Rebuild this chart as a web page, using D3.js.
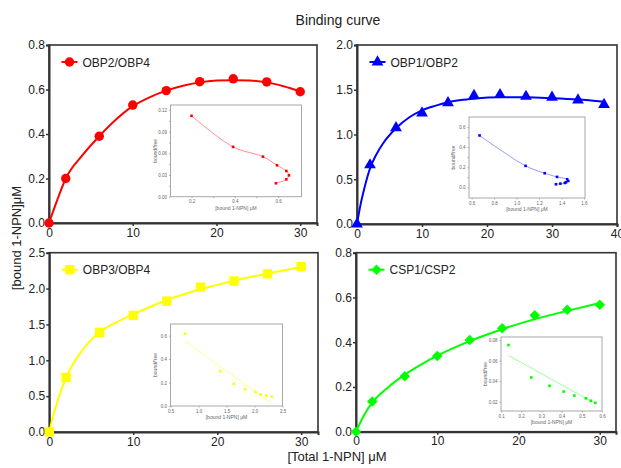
<!DOCTYPE html>
<html>
<head>
<meta charset="utf-8">
<script src="https://cdn.jsdelivr.net/npm/d3@7"></script>
<style>
body { margin: 0; background: #fff; }
svg { font-family: Arial, "Liberation Sans", sans-serif; }
</style>
</head>
<body>
<svg id="chart" width="621" height="468"></svg>
<script>
// total 1-NPN (uM) used in the titrations
var total30 = [0, 2, 6, 10, 14, 18, 22, 26, 30];
var total38 = [0, 2, 6, 10, 14, 18, 22, 26, 30, 34, 38];

// bound 1-NPN (uM)
var boundOBP24 = [0, 0.20, 0.39, 0.53, 0.595, 0.635, 0.648, 0.634, 0.59];
var boundOBP12 = [0, 0.66, 1.075, 1.24, 1.355, 1.435, 1.445, 1.425, 1.415, 1.385, 1.335];
var boundOBP34 = [0, 0.76, 1.39, 1.625, 1.825, 2.02, 2.105, 2.205, 2.305];
var boundCSP12 = [0, 0.135, 0.248, 0.338, 0.41, 0.462, 0.52, 0.545, 0.567];

// fitted curves
var fitX24 = [0, 1, 2, 4, 6, 8, 10, 12, 14, 16, 18, 20, 22, 24, 26, 28, 30];
var fitY24 = [0, 0.105, 0.2, 0.305, 0.39, 0.465, 0.525, 0.565, 0.595, 0.617, 0.632, 0.64, 0.642, 0.64, 0.632, 0.615, 0.592];
var fitX12 = [0, 0.5, 1, 2, 3, 4, 6, 8, 10, 12, 14, 16, 18, 22, 26, 30, 34, 38];
var fitY12 = [0, 0.2, 0.36, 0.62, 0.78, 0.9, 1.07, 1.19, 1.27, 1.32, 1.36, 1.385, 1.4, 1.415, 1.415, 1.405, 1.39, 1.365];
var fitX34 = [0, 0.5, 1, 2, 4, 6, 8, 10, 14, 18, 22, 26, 30];
var fitY34 = [0, 0.24, 0.44, 0.76, 1.15, 1.39, 1.53, 1.64, 1.84, 1.99, 2.11, 2.21, 2.3];
var fitXC = [0, 1, 2, 4, 6, 8, 10, 14, 18, 22, 26, 30];
var fitYC = [0, 0.075, 0.13, 0.2, 0.255, 0.3, 0.34, 0.405, 0.458, 0.503, 0.54, 0.575];

// scatchard insets: bound vs bound/free
var scatB24 = [0.2, 0.392, 0.53, 0.595, 0.638, 0.65, 0.638, 0.59];
var scatR24 = [0.112, 0.069, 0.0555, 0.0435, 0.0356, 0.0296, 0.024, 0.0186];
var scatB12 = [0.67, 1.08, 1.25, 1.36, 1.45, 1.46, 1.44, 1.43, 1.39, 1.35];
var scatR12 = [0.516, 0.213, 0.14, 0.103, 0.08, 0.063, 0.05, 0.043, 0.036, 0.03];
var scatB34 = [0.76, 1.39, 1.63, 1.83, 2.02, 2.11, 2.21, 2.31];
var scatR34 = [0.617, 0.297, 0.189, 0.143, 0.12, 0.098, 0.089, 0.08];
var scatBC = [0.137, 0.25, 0.34, 0.41, 0.463, 0.52, 0.545, 0.567];
var scatRC = [0.0752, 0.0436, 0.0355, 0.0299, 0.026, 0.0233, 0.021, 0.019];
// straight fits in insets 3 and 4
var lineX34 = [0.76, 2.31], lineY34 = [0.555, 0.02];
var lineXC = [0.137, 0.567], lineYC = [0.065, 0.0184];

// tick values
var xTicks30 = [0, 10, 20, 30];
var xTicks40 = [0, 10, 20, 30, 40];
var yTicks08 = [0, 0.2, 0.4, 0.6, 0.8];
var yTicks20 = [0, 0.5, 1.0, 1.5, 2.0];
var yTicks25 = [0, 0.5, 1.0, 1.5, 2.0, 2.5];

var svg = d3.select('#chart');

function zip(a, b) { return a.map(function (v, i) { return [v, b[i]]; }); }

function drawPanel(p) {
    var x = d3.scaleLinear().domain([0, p.xMax]).range([p.left, p.right]);
    var y = d3.scaleLinear().domain([0, p.yMax]).range([p.bottom, p.top]);

    // frame
    svg.append("rect")
        .attr("x", p.left).attr("y", p.top)
        .attr("width", p.right - p.left).attr("height", p.bottom - p.top)
        .attr("fill", "none").attr("stroke", "#333").attr("stroke-width", 1.6);

    var gx = svg.append("g")
        .attr("transform", "translate(0," + p.bottom + ")")
        .call(d3.axisBottom(x).tickValues(p.xTicks).tickSize(3).tickPadding(2).tickFormat(d3.format("d")));
    var gy = svg.append("g")
        .attr("transform", "translate(" + p.left + ",0)")
        .call(d3.axisLeft(y).tickValues(p.yTicks).tickSize(3).tickPadding(1).tickFormat(d3.format(".1f")));
    [gx, gy].forEach(function (g) {
        g.select(".domain").attr("stroke", "#333").attr("stroke-width", 2);
        g.selectAll(".tick line").attr("stroke", "#333").attr("stroke-width", 1.5);
        g.selectAll("text").attr("font-size", 12).attr("fill", "#222")
            .attr("font-family", "Arial, 'Liberation Sans', sans-serif");
    });

    // fitted curve
    var line = d3.line().x(function (d) { return x(d[0]); }).y(function (d) { return y(d[1]); })
        .curve(d3.curveMonotoneX);
    svg.append("path").datum(zip(p.fx, p.fy))
        .attr("d", line).attr("fill", "none").attr("stroke", p.color).attr("stroke-width", 2);

    var sym = d3.symbol().type(p.sym).size(p.size);
    svg.selectAll(null).data(zip(p.xs, p.ys)).enter().append("path")
        .attr("d", sym)
        .attr("transform", function (d) { return "translate(" + x(d[0]) + "," + y(d[1]) + ")" + (p.rot ? " rotate(45)" : ""); })
        .attr("fill", p.color);

    // legend
    var lx = p.left + 12.5, ly = p.top + 17;
    svg.append("line").attr("x1", lx).attr("x2", lx + 16).attr("y1", ly).attr("y2", ly)
        .attr("stroke", p.color).attr("stroke-width", 2);
    svg.append("path").attr("d", sym)
        .attr("transform", "translate(" + (lx + 8) + "," + ly + ")" + (p.rot ? " rotate(45)" : ""))
        .attr("fill", p.color);
    svg.append("text").attr("x", lx + 21).attr("y", ly + 4.5)
        .attr("font-size", 12).attr("fill", "#222").text(p.name);

    drawInset(p.inset, p.color, p.light);
}

function drawInset(s, color, light) {
    var x = d3.scaleLinear().domain(s.xd).range([s.l, s.r]);
    var y = d3.scaleLinear().domain(s.yd).range([s.b, s.t]);
    var g = svg.append("g");
    g.append("rect").attr("x", s.l).attr("y", s.t).attr("width", s.r - s.l).attr("height", s.b - s.t)
        .attr("fill", "#fff").attr("stroke", "#a8a8a8").attr("stroke-width", 1);

    var ax = g.append("g").attr("transform", "translate(0," + s.b + ")")
        .call(d3.axisBottom(x).tickValues(s.xt).tickSize(1.5).tickPadding(2).tickFormat(function (d) {
            return s.xl.indexOf(d) >= 0 ? d3.format(s.xf)(d) : "";
        }));
    var ay = g.append("g").attr("transform", "translate(" + s.l + ",0)")
        .call(d3.axisLeft(y).tickValues(s.yt).tickSize(1.5).tickPadding(2).tickFormat(function (d) {
            return s.yl.indexOf(d) >= 0 ? d3.format(s.yf)(d) : "";
        }));
    [ax, ay].forEach(function (a) {
        a.select(".domain").remove();
        a.selectAll(".tick line").attr("stroke", "#888").attr("stroke-width", 0.6);
        a.selectAll("text").attr("font-size", 4.5).attr("fill", "#666")
            .attr("font-family", "Arial, 'Liberation Sans', sans-serif");
    });

    g.append("text").attr("x", (s.l + s.r) / 2).attr("y", s.b + 13).attr("text-anchor", "middle")
        .attr("font-size", 5).attr("fill", "#666").text("[bound 1-NPN] \u03bcM");
    g.append("text").attr("transform", "translate(" + (s.l - 14) + "," + ((s.t + s.b) / 2) + ") rotate(-90)")
        .attr("text-anchor", "middle").attr("font-size", 5).attr("fill", "#666").text("bound/free");

    var line = d3.line().x(function (d) { return x(d[0]); }).y(function (d) { return y(d[1]); });
    if (s.smooth) line.curve(d3.curveCatmullRom.alpha(0.5));
    g.append("path").datum(zip(s.lx, s.ly)).attr("d", line)
        .attr("fill", "none").attr("stroke", light).attr("stroke-width", 0.9);
    g.selectAll(null).data(zip(s.px, s.py)).enter().append("rect")
        .attr("x", function (d) { return x(d[0]) - 1.3; })
        .attr("y", function (d) { return y(d[1]) - 1.3; })
        .attr("width", 2.6).attr("height", 2.6).attr("fill", color);
}

drawPanel({
    left: 49, right: 317, top: 45, bottom: 223, xMax: 32, yMax: 0.8,
    xTicks: xTicks30, yTicks: yTicks08, xs: total30, ys: boundOBP24, fx: fitX24, fy: fitY24,
    color: "#ff0000", light: "#ff8080", sym: d3.symbolCircle, size: 70, name: "OBP2/OBP4",
    inset: { l: 170.5, r: 301.5, t: 105, b: 196.7, xd: [0.103, 0.708], yd: [0, 0.127],
        xt: [0.2, 0.3, 0.4, 0.5, 0.6], xl: [0.2, 0.4, 0.6], xf: ".1f",
        yt: [0, 0.015, 0.03, 0.045, 0.06, 0.075, 0.09, 0.105, 0.12], yl: [0, 0.03, 0.06, 0.09, 0.12], yf: ".2f",
        px: scatB24, py: scatR24, lx: scatB24, ly: scatR24, smooth: true }
});

drawPanel({
    left: 357, right: 617, top: 45, bottom: 224, xMax: 40, yMax: 2.0,
    xTicks: xTicks40, yTicks: yTicks20, xs: total38, ys: boundOBP12, fx: fitX12, fy: fitY12,
    color: "#0000ff", light: "#8f8fff", sym: d3.symbolTriangle, size: 60, name: "OBP1/OBP2",
    inset: { l: 469, r: 585, t: 117, b: 198, xd: [0.576, 1.609], yd: [-0.107, 0.7],
        xt: [0.6, 0.8, 1.0, 1.2, 1.4, 1.6], xl: [0.6, 0.8, 1.0, 1.2, 1.4, 1.6], xf: ".1f",
        yt: [0, 0.1, 0.2, 0.3, 0.4, 0.5, 0.6], yl: [0, 0.2, 0.4, 0.6], yf: ".1f",
        px: scatB12, py: scatR12, lx: scatB12, ly: scatR12, smooth: true }
});

drawPanel({
    left: 49.3, right: 318, top: 252.7, bottom: 432, xMax: 32, yMax: 2.5,
    xTicks: xTicks30, yTicks: yTicks25, xs: total30, ys: boundOBP34, fx: fitX34, fy: fitY34,
    color: "#ffff00", light: "#ffff80", sym: d3.symbolSquare, size: 88, name: "OBP3/OBP4",
    inset: { l: 170.5, r: 282.5, t: 324, b: 406, xd: [0.5, 2.5], yd: [0, 0.7],
        xt: [0.5, 1.0, 1.5, 2.0, 2.5], xl: [0.5, 1.0, 1.5, 2.0, 2.5], xf: ".1f",
        yt: [0, 0.2, 0.4, 0.6], yl: [0, 0.2, 0.4, 0.6], yf: ".1f",
        px: scatB34, py: scatR34, lx: lineX34, ly: lineY34, smooth: false }
});

drawPanel({
    left: 356, right: 616, top: 252.7, bottom: 431.7, xMax: 32, yMax: 0.8,
    xTicks: xTicks30, yTicks: yTicks08, xs: total30, ys: boundCSP12, fx: fitXC, fy: fitYC,
    color: "#00ff00", light: "#90ff90", sym: d3.symbolSquare, size: 56, rot: true, name: "CSP1/CSP2",
    inset: { l: 501, r: 602, t: 337, b: 411, xd: [0.1, 0.6], yd: [0.011, 0.083],
        xt: [0.1, 0.2, 0.3, 0.4, 0.5, 0.6], xl: [0.1, 0.2, 0.3, 0.4, 0.5, 0.6], xf: ".1f",
        yt: [0.02, 0.04, 0.06, 0.08], yl: [0.02, 0.04, 0.06, 0.08], yf: ".2f",
        px: scatBC, py: scatRC, lx: lineXC, ly: lineYC, smooth: false }
});

// titles
svg.append("text").attr("x", 338).attr("y", 25).attr("text-anchor", "middle")
    .attr("font-size", 14).attr("fill", "#222").text("Binding curve");
svg.append("text").attr("x", 337).attr("y", 461).attr("text-anchor", "middle")
    .attr("font-size", 13).attr("fill", "#222").text("[Total 1-NPN] \u03bcM");
svg.append("text").attr("transform", "translate(" + 21 + "," + 238 + ") rotate(-90)")
    .attr("text-anchor", "middle").attr("font-size", 13).attr("fill", "#222").text("[bound 1-NPN]\u03bcM");
</script>
</body>
</html>
